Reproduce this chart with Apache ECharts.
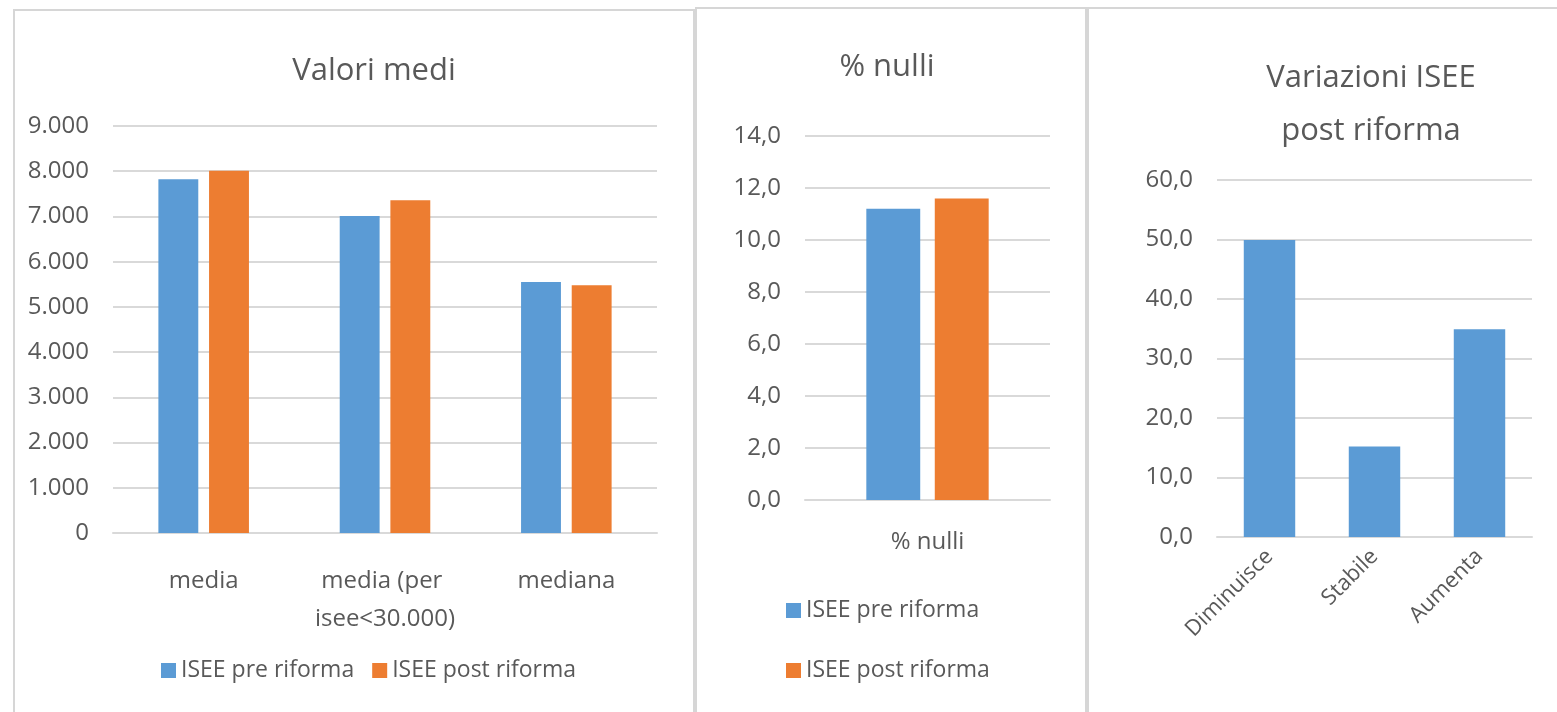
<!DOCTYPE html>
<html>
<head>
<meta charset="utf-8">
<title>ISEE riforma</title>
<script src="https://cdn.jsdelivr.net/npm/echarts@6/dist/echarts.min.js"></script>
<style>
  html, body { margin: 0; padding: 0; background: #fff; }
  #chart { width: 1557px; height: 712px; }
</style>
</head>
<body>
<div id="chart"></div>
<script>
  // --- data ---
  const seriesNames = ["ISEE pre riforma", "ISEE post riforma"];

  const mediCategories = ["media", "media (per isee<30.000)", "mediana"];
  const mediPre = [7820, 7010, 5550];
  const mediPost = [8010, 7360, 5480];

  const nulliCategories = ["% nulli"];
  const nulliPre = [11.2];
  const nulliPost = [11.6];

  const varCategories = ["Diminuisce", "Stabile", "Aumenta"];
  const varValues = [49.9, 15.2, 34.9];

  const BLUE = "#5b9bd5";
  const ORANGE = "#ed7d31";
  const TEXT = "#595959";
  const GRID = "#d9d9d9";
  const FONT = "'Open Sans', 'Noto Sans', sans-serif";

  function thousands(v) {
    return String(v).replace(/\B(?=(\d{3})+(?!\d))/g, ".");
  }
  function comma1(v) {
    return Number(v).toFixed(1).replace(".", ",");
  }

  function yAxis(idx, max, interval, formatter) {
    return {
      type: "value", gridIndex: idx, min: 0, max: max, interval: interval,
      axisLine: { show: false }, axisTick: { show: false },
      splitLine: { lineStyle: { color: GRID, width: 2 } },
      axisLabel: { color: TEXT, fontSize: 24, fontFamily: FONT, margin: 24, formatter: formatter },
    };
  }

  function xAxis(idx, data, labelExtra) {
    return {
      type: "category", gridIndex: idx, data: data,
      axisLine: { lineStyle: { color: GRID, width: 2 } }, axisTick: { show: false },
      axisLabel: Object.assign({ color: TEXT, fontSize: 24, fontFamily: FONT, interval: 0 }, labelExtra),
    };
  }

  const titleStyle = { color: TEXT, fontSize: 31, fontWeight: "normal", fontFamily: FONT };
  const legendText = { color: TEXT, fontSize: 23, fontFamily: FONT };

  const chart = echarts.init(document.getElementById("chart"));
  chart.setOption({
    animation: false,
    title: [
      { text: "Valori medi", left: 369, top: 51, textAlign: "center", textStyle: titleStyle },
      { text: "% nulli", left: 882, top: 47, textAlign: "center", textStyle: titleStyle },
      { text: "Variazioni ISEE\npost riforma", left: 1366, top: 47, textAlign: "center",
        textStyle: Object.assign({ lineHeight: 53 }, titleStyle) },
    ],
    legend: [
      { data: seriesNames, left: 156, top: 654, itemWidth: 15, itemHeight: 15, itemGap: 18,
        icon: "rect", textStyle: legendText },
      { data: seriesNames, orient: "vertical", left: 781, top: 594, itemWidth: 15, itemHeight: 15,
        itemGap: 37, icon: "rect", textStyle: legendText },
    ],
    grid: [
      { left: 113, top: 126, right: 900, bottom: 179 },
      { left: 805, top: 136, right: 507, bottom: 212 },
      { left: 1217, top: 180, right: 25, bottom: 175 },
    ],
    xAxis: [
      xAxis(0, mediCategories, { margin: 29, width: 160, overflow: "break", lineHeight: 38 }),
      xAxis(1, nulliCategories, { margin: 30 }),
      xAxis(2, varCategories, { margin: 16, rotate: 45, fontSize: 22 }),
    ],
    yAxis: [
      yAxis(0, 9000, 1000, thousands),
      yAxis(1, 14, 2, comma1),
      yAxis(2, 60, 10, comma1),
    ],
    series: [
      { name: seriesNames[0], type: "bar", xAxisIndex: 0, yAxisIndex: 0, data: mediPre,
        barWidth: "22%", barGap: "27%", itemStyle: { color: BLUE } },
      { name: seriesNames[1], type: "bar", xAxisIndex: 0, yAxisIndex: 0, data: mediPost,
        barWidth: "22%", barGap: "27%", itemStyle: { color: ORANGE } },
      { name: seriesNames[0], type: "bar", xAxisIndex: 1, yAxisIndex: 1, data: nulliPre,
        barWidth: "22%", barGap: "27%", itemStyle: { color: BLUE } },
      { name: seriesNames[1], type: "bar", xAxisIndex: 1, yAxisIndex: 1, data: nulliPost,
        barWidth: "22%", barGap: "27%", itemStyle: { color: ORANGE } },
      { name: "Variazioni ISEE post riforma", type: "bar", xAxisIndex: 2, yAxisIndex: 2, data: varValues,
        barWidth: "49%", itemStyle: { color: BLUE } },
    ],
    // panel frames of the three pasted charts
    graphic: [
      { type: "rect", shape: { x: 14, y: 10, width: 680, height: 720 },
        style: { fill: "none", stroke: "#d6d6d6", lineWidth: 2 } },
      { type: "rect", shape: { x: 696, y: 8, width: 390, height: 720 },
        style: { fill: "none", stroke: "#d6d6d6", lineWidth: 2 } },
      { type: "rect", shape: { x: 1088, y: 8, width: 480, height: 720 },
        style: { fill: "none", stroke: "#d6d6d6", lineWidth: 2 } },
    ],
  });
</script>
</body>
</html>
